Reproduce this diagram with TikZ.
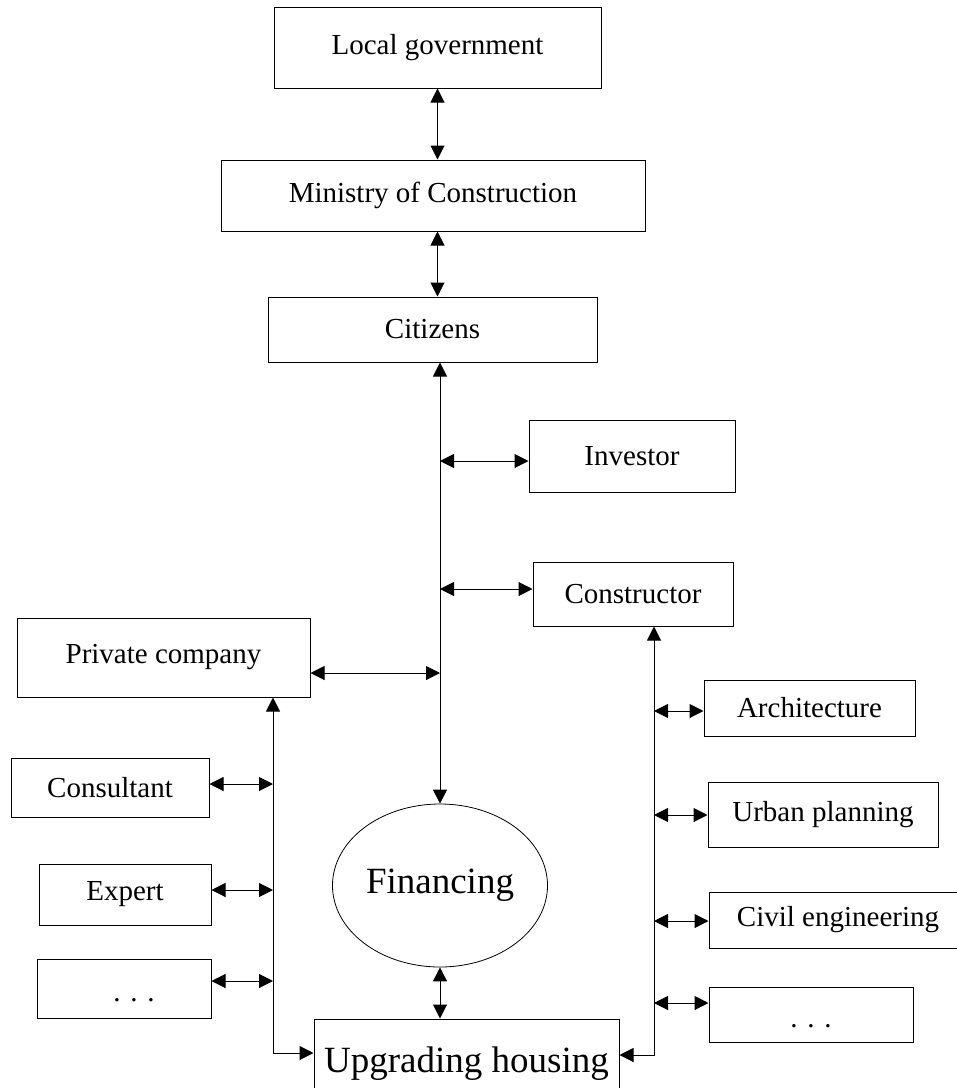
\documentclass[tikz,border=0pt]{standalone}
\usepackage{fontspec}
\setmainfont{Liberation Serif}
\usepackage{tikz, xcolor}
\usetikzlibrary{shapes,arrows.meta}

\begin{document}
\begin{tikzpicture}[x=1pt, y=-1pt, line width=1pt, >={Triangle[length=14pt,width=14pt]}]
\tikzstyle{vertexr}=[rectangle, draw=black, line width=1pt, inner sep=0pt, font=\fontsize{29}{34}\selectfont]
\tikzstyle{vertexe}=[ellipse, draw=black, line width=0.8pt, inner sep=0pt, font=\fontsize{37}{44}\selectfont]
\tikzstyle{vertexd}=[vertexr, text height=26pt, text depth=0pt]
\tikzstyle{drawstyle}=[line width=1pt, <->]
\useasboundingbox (0,0) rectangle (957,1088);

\node[vertexr, minimum width=327pt, minimum height=81pt] (Gov) at (437.5,47.5) {Local government};
\node[vertexr, minimum width=424pt, minimum height=71pt] (Min) at (433,195.5) {Ministry of Construction};
\draw[drawstyle] (Gov.south) -- (Gov.south |- Min.north);
\node[vertexr, minimum width=329pt, minimum height=65pt] (Cit) at (432.5,329.5) {Citizens};
\draw[drawstyle] (Gov.south |- Min.south) -- (Gov.south |- Cit.north);

\node[vertexe, minimum width=215pt, minimum height=163pt] (Fin) at (440,885.5) {Financing};
\draw[drawstyle] (Fin.north |- Cit.south) -- (Fin.north);
\node[vertexr, minimum width=305pt, minimum height=89pt, font=\fontsize{37}{44}\selectfont] (Upg) at (466.5,1063.5) {Upgrading housing};
\draw[drawstyle] (Fin.south) -- (Fin.south |- Upg.north);

\coordinate (J1) at (440,461);
\coordinate (J2) at (440,589);
\coordinate (J3) at (440,673);
\node[vertexr, minimum width=206pt, minimum height=72pt] (Inv) at (632,456) {Investor};
\draw[drawstyle] (J1) -- (J1 -| Inv.west);
\node[vertexr, minimum width=200pt, minimum height=64pt] (Con) at (633,594) {Constructor};
\draw[drawstyle] (J2) -- (J2 -| Con.west);
\node[vertexr, minimum width=293pt, minimum height=79pt] (Prv) at (163.5,657.5) {Private company};
\draw[drawstyle] (Prv.east |- J3) -- (J3);

% left branch
\coordinate (L1) at (273,784);
\coordinate (L2) at (273,890);
\coordinate (L3) at (273,981);
\coordinate (L4) at (273,1053);
\draw[drawstyle] (L4 |- Prv.south) -- (L4) -- (L4 -| Upg.west);
\node[vertexr, minimum width=198pt, minimum height=59pt] (Cns) at (110,787.5) {Consultant};
\draw[drawstyle] (Cns.east |- L1) -- (L1);
\node[vertexr, minimum width=172pt, minimum height=61pt] (Exp) at (125,894.5) {Expert};
\draw[drawstyle] (Exp.east |- L2) -- (L2);
\node[vertexd, minimum width=174pt, minimum height=59pt] (DtL) at (124,988.5) {\hspace*{20pt}. . .};
\draw[drawstyle] (DtL.east |- L3) -- (L3);

% right branch
\coordinate (R1) at (654,711);
\coordinate (R2) at (654,815);
\coordinate (R3) at (654,921);
\coordinate (R4) at (654,1003);
\coordinate (R5) at (654,1055);
\draw[drawstyle] (R5 |- Con.south) -- (R5) -- (R5 -| Upg.east);
\node[vertexr, minimum width=211pt, minimum height=56pt] (Arc) at (809.5,708) {Architecture};
\draw[drawstyle] (R1) -- (R1 -| Arc.west);
\node[vertexr, minimum width=230pt, minimum height=65pt] (Urb) at (823,814.5) {Urban planning};
\draw[drawstyle] (R2) -- (R2 -| Urb.west);
\node[vertexr, minimum width=258pt, minimum height=56pt] (Civ) at (838,920) {Civil engineering};
\draw[drawstyle] (R3) -- (R3 -| Civ.west);
\node[vertexd, minimum width=204pt, minimum height=55pt] (DtR) at (811,1014.5) {. . .};
\draw[drawstyle] (R4) -- (R4 -| DtR.west);
\end{tikzpicture}
\end{document}
